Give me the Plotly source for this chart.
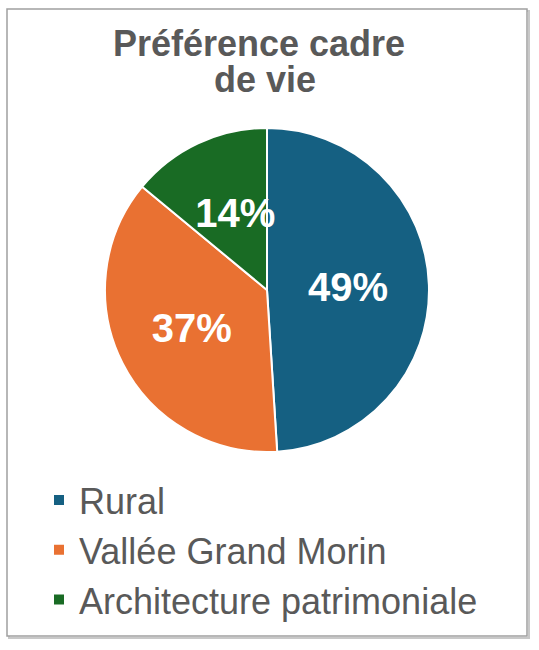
import plotly.graph_objects as go

categories = ["Rural", "Vallée Grand Morin", "Architecture patrimoniale"]
values = [49, 37, 14]
colors = ["#156082", "#E97132", "#196B24"]
title_lines = ["Préférence cadre", "de vie"]

W, H = 539, 650

def px(x):
    return x / W

def py(y):
    return 1 - y / H

label_fmt = "%{percent:.0%}"
templates = [label_fmt, label_fmt, "\u00a0<br>\u00a0\u00a0\u00a0" + label_fmt]

fig = go.Figure(go.Pie(
    labels=categories,
    values=values,
    sort=False,
    direction="clockwise",
    rotation=0,
    marker=dict(colors=colors, line=dict(color="white", width=2)),
    textinfo="percent",
    texttemplate=templates,
    textposition="inside",
    insidetextorientation="horizontal",
    textfont=dict(family="Liberation Sans, Arial", size=40, color="white", weight="bold"),
    domain=dict(x=[px(105), px(429)], y=[py(452), py(128)]),
    showlegend=True,
    hoverinfo="label+percent",
))

title_font = dict(family="Liberation Sans, Arial", size=36, color="#595959", weight="bold")

fig.update_layout(
    width=W, height=H,
    margin=dict(l=0, r=0, t=0, b=0),
    paper_bgcolor="white",
    plot_bgcolor="white",
    uniformtext=dict(minsize=40, mode="show"),
    title=dict(text=title_lines[0], x=px(259), xanchor="center", y=py(56), yanchor="bottom",
               font=title_font),
    annotations=[dict(text=title_lines[1], x=px(265), xanchor="center", y=py(102), yanchor="bottom",
                      xref="paper", yref="paper", showarrow=False, font=title_font)],
    legend=dict(x=px(39), xanchor="left", y=py(470), yanchor="top",
                font=dict(family="Liberation Sans, Arial", size=36, color="#595959"),
                traceorder="normal", bgcolor="rgba(0,0,0,0)"),
    shapes=[
        dict(type="rect", xref="paper", yref="paper", x0=px(9), x1=px(529), y0=py(638), y1=py(11),
             line=dict(color="#C8C8C8", width=2), layer="below"),
        dict(type="rect", xref="paper", yref="paper", x0=px(7), x1=px(527), y0=py(636), y1=py(9),
             line=dict(color="#A0A0A0", width=1.5), fillcolor="white", layer="below"),
    ],
)

fig.write_html("out.html", config={"displayModeBar": False},
               post_script="document.body.style.margin='0';")
